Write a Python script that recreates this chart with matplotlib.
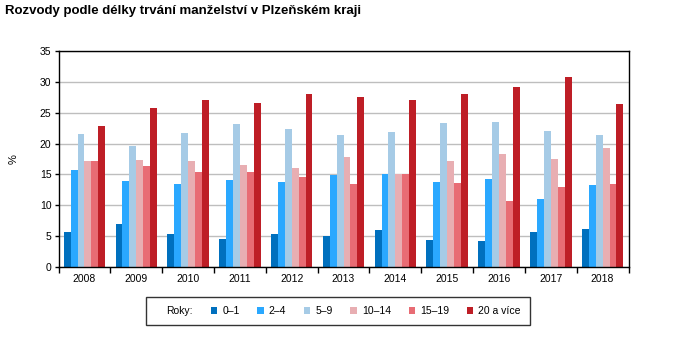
import matplotlib

matplotlib.use("Agg")
import matplotlib.pyplot as plt
import numpy as np
from matplotlib.patches import Rectangle

plt.rcParams["font.family"] = ["Liberation Sans", "DejaVu Sans"]

years = ["2008", "2009", "2010", "2011", "2012", "2013", "2014", "2015", "2016", "2017", "2018"]
series_labels = ["0–1", "2–4", "5–9", "10–14", "15–19", "20 a více"]
colors = ["#0070BE", "#2AA8FF", "#A6CBE6", "#E8AEB2", "#E86C74", "#BE1E26"]

d_0_1 = [5.7, 7.0, 5.4, 4.6, 5.4, 5.0, 6.0, 4.4, 4.3, 5.7, 6.2]
d_2_4 = [15.7, 13.9, 13.5, 14.1, 13.8, 14.9, 15.1, 13.8, 14.3, 11.0, 13.3]
d_5_9 = [21.5, 19.6, 21.7, 23.2, 22.3, 21.4, 21.9, 23.3, 23.5, 22.0, 21.4]
d_10_14 = [17.2, 17.3, 17.2, 16.5, 16.0, 17.8, 15.1, 17.2, 18.3, 17.5, 19.3]
d_15_19 = [17.2, 16.4, 15.4, 15.4, 14.6, 13.5, 15.1, 13.6, 10.7, 13.0, 13.5]
d_20_plus = [22.8, 25.7, 27.0, 26.5, 28.0, 27.5, 27.0, 28.0, 29.1, 30.7, 26.4]
series = [d_0_1, d_2_4, d_5_9, d_10_14, d_15_19, d_20_plus]

fig = plt.figure(figsize=(6.74, 3.44), dpi=100)
ax = fig.add_axes([58.5 / 674, 1 - 267.3 / 344, 570 / 674, 216.6 / 344])

x = np.arange(len(years))
width = 0.8 / len(series)
for i, (values, color) in enumerate(zip(series, colors)):
    offset = (i - (len(series) - 1) / 2) * width
    ax.bar(x + offset, values, width, color=color, label=series_labels[i], zorder=2)

ax.set_xlim(-0.5, len(years) - 0.5)
ax.set_ylim(0, 35)
ax.set_yticks(range(0, 36, 5))
ax.set_xticks(x)
ax.set_xticklabels(years)
ax.set_xticks(np.arange(-0.5, len(years), 1), minor=True)
ax.tick_params(axis="x", which="major", length=0, labelsize=7.5, pad=5)
ax.tick_params(axis="x", which="minor", length=4, width=1, direction="out")
ax.tick_params(axis="y", length=3, width=1, labelsize=7.5, pad=2)
ax.grid(axis="y", color="#BEBEBE", linewidth=1, zorder=0)
for spine in ax.spines.values():
    spine.set_linewidth(1)
    spine.set_color("black")
ax.set_ylabel("%", fontsize=8)
ax.yaxis.set_label_coords(-40 / 570, 0.5)

fig.text(5 / 674, 1 - 11 / 344, "Rozvody podle délky trvání manželství v Plzeňském kraji",
         fontsize=9.5, fontweight="bold", va="center", ha="left")

handles, labels = ax.get_legend_handles_labels()
blank = Rectangle((0, 0), 1, 1, alpha=0)
leg = fig.legend([blank] + handles, ["Roky:"] + labels, ncol=7,
                 loc="center", bbox_to_anchor=(338 / 674, 1 - 311 / 344),
                 fontsize=7.5, frameon=True, fancybox=False, edgecolor="black",
                 handlelength=0.6, handleheight=0.6, handletextpad=0.5,
                 columnspacing=1.7, borderpad=0.9)
leg.get_frame().set_linewidth(1)

fig.savefig("out.png", dpi=100)
